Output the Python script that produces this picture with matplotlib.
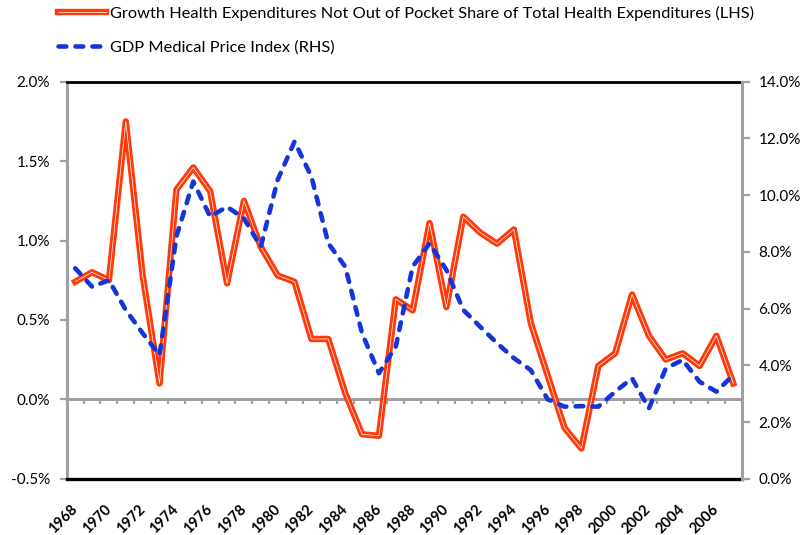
import matplotlib.pyplot as plt
import matplotlib.patheffects as pe
import numpy as np
from matplotlib.ticker import FuncFormatter

plt.rcParams['font.family'] = ['Lato', 'DejaVu Sans']

years = list(range(1968, 2008))
# growth of not-out-of-pocket share (LHS, %)
growth_share = [0.74, 0.80, 0.75, 1.75, 0.78, 0.10, 1.32, 1.46, 1.31, 0.73,
                1.25, 0.96, 0.78, 0.74, 0.38, 0.38, 0.04, -0.22, -0.23, 0.63,
                0.56, 1.11, 0.58, 1.15, 1.05, 0.98, 1.07, 0.48, 0.15, -0.18,
                -0.31, 0.21, 0.29, 0.66, 0.40, 0.25, 0.29, 0.21, 0.40, 0.10]
# GDP medical price index (RHS, %)
med_price = [7.42, 6.77, 7.00, 5.95, 5.13, 4.36, 8.54, 10.48, 9.24, 9.59,
             9.18, 8.18, 10.54, 11.89, 10.65, 8.30, 7.48, 5.13, 3.72, 4.66,
             7.48, 8.30, 7.36, 5.95, 5.36, 4.78, 4.25, 3.83, 2.80, 2.54,
             2.56, 2.54, 3.07, 3.54, 2.48, 3.89, 4.19, 3.42, 3.07, 3.66]
label_years = years[::2]

red = '#FF3A0A'
blue = '#1535D9'
gray = '#A0A0A0'

fig = plt.figure(figsize=(8.05, 5.35), dpi=100)
ax1 = fig.add_axes([0.0829, 0.1052, 0.9214 - 0.0829, 0.8473 - 0.1052])
ax2 = ax1.twinx()

x = np.arange(len(years))

ax1.plot(x, growth_share, color='white', lw=0.5, zorder=3,
         path_effects=[pe.Stroke(linewidth=4.6, foreground=red), pe.Normal()],
         label='Growth Health Expenditures Not Out of Pocket Share of Total Health Expenditures (LHS)')
ax2.plot(x, med_price, color=blue, lw=3.3, linestyle=(0, (1.7, 2.0)),
         dash_capstyle='round', label='GDP Medical Price Index (RHS)')

ax1.set_xlim(-0.5, len(years) - 0.5)
ax1.set_ylim(-0.5, 2.0)
ax1.set_yticks(np.arange(-0.5, 2.01, 0.5))
ax2.set_ylim(0, 14)
ax2.set_yticks(np.arange(0, 14.1, 2))

ax1.yaxis.set_major_formatter(FuncFormatter(lambda v, p: f'{v:.1f}%'))
ax2.yaxis.set_major_formatter(FuncFormatter(lambda v, p: f'{v:.1f}%'))

# category axis drawn at zero, ticks between categories
ax1.spines['bottom'].set_position(('data', 0))
ax1.spines['bottom'].set_color(gray)
ax1.spines['bottom'].set_linewidth(2.2)
ax1.set_xticks([])
ax1.set_xticks(np.arange(-0.5, len(years), 1), minor=True)
ax1.tick_params(axis='x', which='minor', direction='out', length=3.5, width=1.6, color=gray)
ax1.axhline(-0.5, color='black', lw=2.4, clip_on=False, zorder=4)

ax1.spines['top'].set_color('black')
ax1.spines['top'].set_linewidth(2.0)
ax1.spines['left'].set_color(gray)
ax1.spines['left'].set_linewidth(2.2)
ax1.spines['right'].set_visible(False)
for s in ['top', 'bottom', 'left']:
    ax2.spines[s].set_visible(False)
ax2.spines['right'].set_color(gray)
ax2.spines['right'].set_linewidth(2.2)

ax1.tick_params(axis='y', direction='out', length=5, width=1.6, color=gray,
                labelsize=11, pad=7)
ax2.tick_params(axis='y', direction='out', length=6, width=1.6, color=gray,
                labelsize=11, pad=6)

for i, yr in zip(x[::2], label_years):
    ax1.text(i + 0.3, -0.06, str(yr), rotation=45, ha='right', va='top',
             fontsize=10.5, fontweight='bold', transform=ax1.get_xaxis_transform())

h1, l1 = ax1.get_legend_handles_labels()
h2, l2 = ax2.get_legend_handles_labels()
fig.legend(h1 + h2, l1 + l2, loc='upper left', bbox_to_anchor=(58 / 805, 1 - 6 / 535),
           frameon=False, fontsize=11.8, handlelength=2.95, handletextpad=0.2,
           labelspacing=1.15, borderpad=0, borderaxespad=0)

fig.savefig('out.png', dpi=100)
